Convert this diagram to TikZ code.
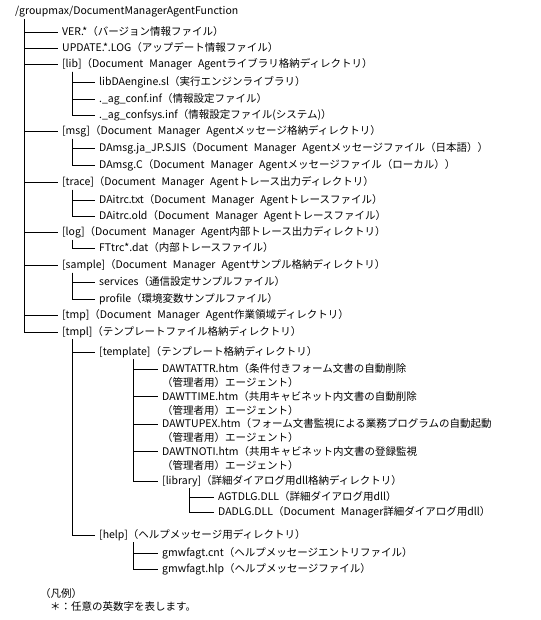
\documentclass[tikz,border=0pt]{standalone}
\usepackage{fontspec}
\setmainfont{Noto Sans CJK JP}[WordSpace=2.6]
\usetikzlibrary{calc}
\tikzset{
  entry/.style={anchor=west,inner xsep=4pt,inner ysep=1.5pt,
    font=\fontsize{10.5}{13.8}\selectfont},
  twoline/.style={entry,anchor=north west,align=left},
  branch/.style={draw=black,line width=0.75pt},
}

\begin{document}
\begin{tikzpicture}[x=1pt,y=1pt]
  \useasboundingbox (0,0) rectangle (540,-620);
  % columns of the tree bars
  \coordinate (c1) at (24,0);
  \coordinate (c2) at (72,0);
  \coordinate (c3) at (133,0);
  \coordinate (c4) at (189,0);

  \node[entry,inner xsep=0pt] (root) at (15,-12) {/groupmax/DocumentManagerAgentFunction};

  % first level
  \node[entry] (ver) at (58,-32) {VER.*（バージョン情報ファイル）};
  \node[entry] (upd) at (58,-48) {UPDATE.*.LOG（アップデート情報ファイル）};
  \node[entry] (lib) at (58,-64) {[lib]（Document Manager Agentライブラリ格納ディレクトリ）};
  \node[entry] (msg) at (58,-131) {[msg]（Document Manager Agentメッセージ格納ディレクトリ）};
  \node[entry] (trace) at (58,-182) {[trace]（Document Manager Agentトレース出力ディレクトリ）};
  \node[entry] (log) at (58,-232) {[log]（Document Manager Agent内部トレース出力ディレクトリ）};
  \node[entry] (sample) at (58,-265) {[sample]（Document Manager Agentサンプル格納ディレクトリ）};
  \node[entry] (tmp) at (58,-315) {[tmp]（Document Manager Agent作業領域ディレクトリ）};
  \node[entry] (tmpl) at (58,-332) {[tmpl]（テンプレートファイル格納ディレクトリ）};

  % second level
  \node[entry] (libda) at (95,-82) {libDAengine.sl（実行エンジンライブラリ）};
  \node[entry] (conf) at (95,-99) {.\_ag\_conf.inf（情報設定ファイル）};
  \node[entry] (confsys) at (95,-115) {.\_ag\_confsys.inf（情報設定ファイル(システム)）};
  \node[entry] (msgja) at (95,-148) {DAmsg.ja\_JP.SJIS（Document Manager Agentメッセージファイル（日本語））};
  \node[entry] (msgc) at (95,-165) {DAmsg.C（Document Manager Agentメッセージファイル（ローカル））};
  \node[entry] (trctxt) at (95,-200) {DAitrc.txt（Document Manager Agentトレースファイル）};
  \node[entry] (trcold) at (95,-216) {DAitrc.old（Document Manager Agentトレースファイル）};
  \node[entry] (fttrc) at (95,-248) {FTtrc*.dat（内部トレースファイル）};
  \node[entry] (services) at (95,-282) {services（通信設定サンプルファイル）};
  \node[entry] (profile) at (95,-299) {profile（環境変数サンプルファイル）};
  \node[entry] (template) at (95,-352) {[template]（テンプレート格納ディレクトリ）};
  \node[entry] (help) at (95,-535) {[help]（ヘルプメッセージ用ディレクトリ）};

  % third level
  \node[twoline] (tattr) at (158,-362) {DAWTATTR.htm（条件付きフォーム文書の自動削除\\（管理者用）エージェント）};
  \node[twoline] (ttime) at (158,-389.6) {DAWTTIME.htm（共用キャビネット内文書の自動削除\\（管理者用）エージェント）};
  \node[twoline] (tupex) at (158,-417.2) {DAWTUPEX.htm（フォーム文書監視による業務プログラムの自動起動\\（管理者用）エージェント）};
  \node[twoline] (tnoti) at (158,-444.8) {DAWTNOTI.htm（共用キャビネット内文書の登録監視\\（管理者用）エージェント）};
  \node[entry] (library) at (158,-481) {[library]（詳細ダイアログ用dll格納ディレクトリ）};
  \node[entry] (cnt) at (158,-553) {gmwfagt.cnt（ヘルプメッセージエントリファイル）};
  \node[entry] (hlp) at (158,-569) {gmwfagt.hlp（ヘルプメッセージファイル）};

  % fourth level
  \node[entry] (agtdlg) at (214,-497) {AGTDLG.DLL（詳細ダイアログ用dll）};
  \node[entry] (dadlg) at (214,-512) {DADLG.DLL（Document Manager詳細ダイアログ用dll）};

  % legend
  \node[entry,inner xsep=0pt] (legend) at (40,-594) {（凡例）};
  \node[entry,inner xsep=0pt] (note) at (50,-607) {＊：任意の英数字を表します。};

  % branches
  \foreach \n in {ver,upd,lib,msg,trace,log,sample,tmp,tmpl}
    \draw[branch] (c1 |- root.south) |- (\n.west);
  \foreach \n in {libda,conf,confsys}
    \draw[branch] (c2 |- lib.south) |- (\n.west);
  \foreach \n in {msgja,msgc}
    \draw[branch] (c2 |- msg.south) |- (\n.west);
  \foreach \n in {trctxt,trcold}
    \draw[branch] (c2 |- trace.south) |- (\n.west);
  \draw[branch] (c2 |- log.south) |- (fttrc.west);
  \foreach \n in {services,profile}
    \draw[branch] (c2 |- sample.south) |- (\n.west);
  \foreach \n in {template,help}
    \draw[branch] (c2 |- tmpl.south) |- (\n.west);
  \foreach \n in {tattr,ttime,tupex,tnoti}
    \draw[branch] (c3 |- template.south) |- ([yshift=-7pt]\n.north west);
  \draw[branch] (c3 |- template.south) |- (library.west);
  \foreach \n in {agtdlg,dadlg}
    \draw[branch] (c4 |- library.south) |- (\n.west);
  \foreach \n in {cnt,hlp}
    \draw[branch] (c3 |- help.south) |- (\n.west);
\end{tikzpicture}
\end{document}
